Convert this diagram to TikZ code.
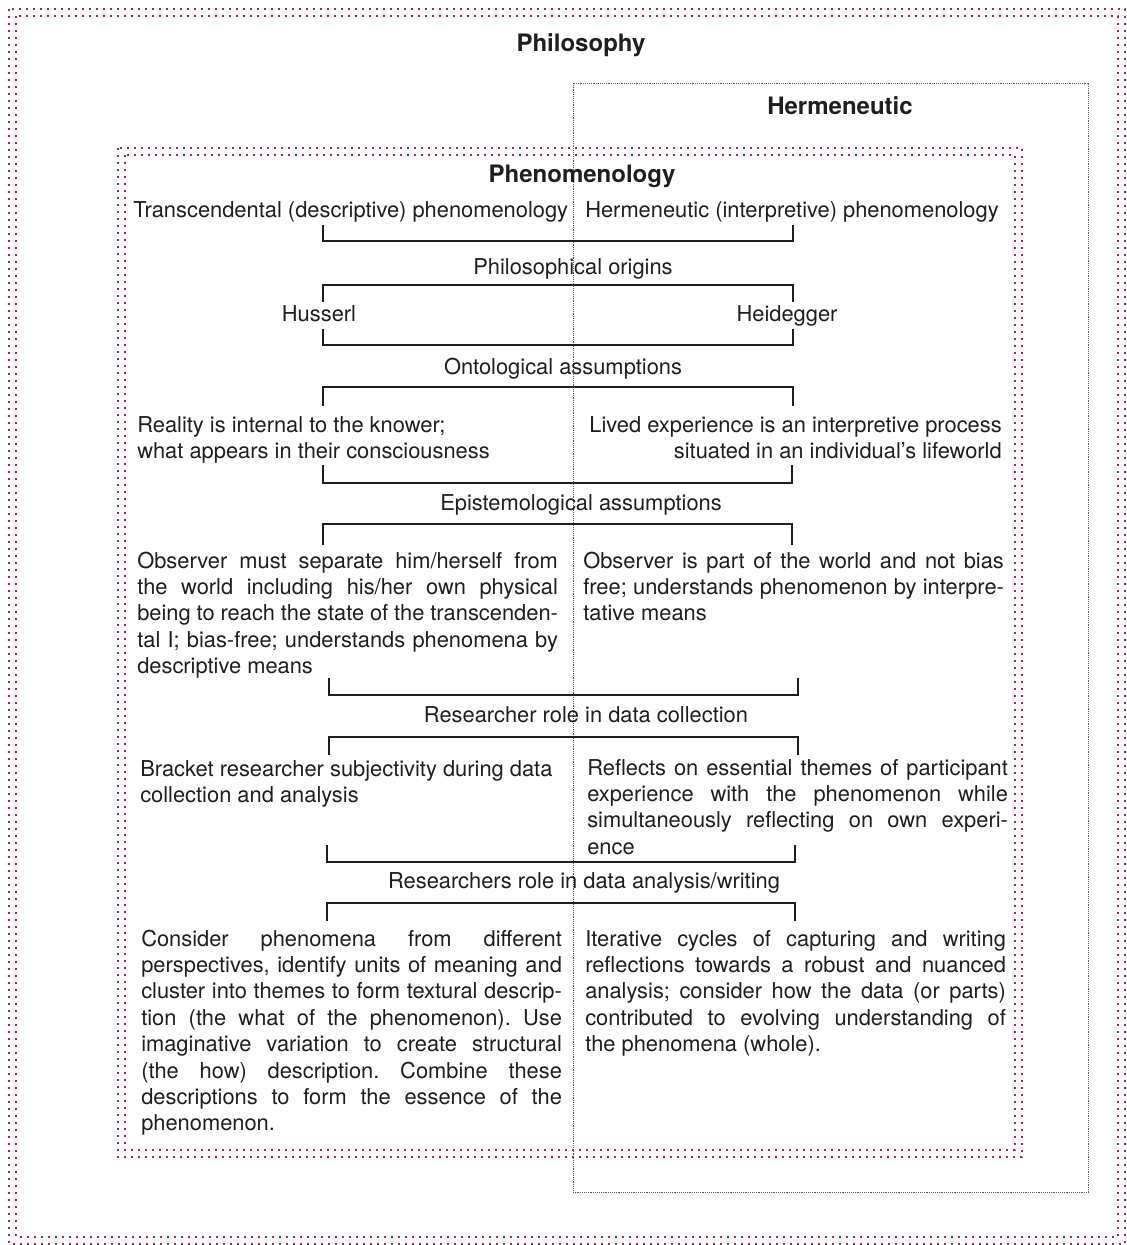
\documentclass[tikz,border=0pt]{standalone}
\usepackage{fontspec}
\setmainfont{TeX Gyre Heros}
\usetikzlibrary{calc}
\definecolor{dotred}{RGB}{160,40,72}
\definecolor{ink}{RGB}{30,30,30}
\newlength\colw
\setlength\colw{315.5pt}
\newcommand\fl[1]{\makebox[\colw][s]{#1}}
\frenchspacing

\begin{document}
\begin{tikzpicture}[x=0.75pt,y=-0.75pt,
    redframe/.style={draw=dotred, line width=1.8pt, dash pattern=on 1.8pt off 3.45pt},
    hermframe/.style={draw=gray!70!black, line width=0.7pt, dash pattern=on 0.7pt off 0.7pt},
    brk/.style={draw=ink, line width=1.4pt},
    head/.style={font=\fontsize{18}{22}\selectfont\bfseries, text=ink, inner sep=0pt, anchor=base},
    lbl/.style={font=\fontsize{16.4}{19.8}\selectfont, text=ink, inner sep=0pt, anchor=base},
    para/.style={lbl, align=left, anchor=base west}]
    \useasboundingbox (0,0) rectangle (1127,1245);
    % frames
    \draw[redframe] (9,9) rectangle (1125,1244);
    \draw[redframe] (16,16) rectangle (1118,1237);
    \draw[redframe] (118,148) rectangle (1022,1157);
    \draw[redframe] (125,155) rectangle (1015,1150);
    \draw[hermframe] (573,83) rectangle (1088,1192);
    % headings
    \node[head] (philo) at (581,52) {Philosophy};
    \node[head] (herm) at (840,115) {Hermeneutic};
    \node[head] (phen) at (582,183) {Phenomenology};
    % two traditions (base = last line of each block)
    \node[lbl, anchor=base west] (trans) at (133,217) {Transcendental (descriptive) phenomenology};
    \node[lbl, anchor=base west] (interp) at (585,217) {Hermeneutic (interpretive) phenomenology};
    \node[lbl] (origins) at (573,274) {Philosophical origins};
    \node[lbl] (husserl) at (319,321) {Husserl};
    \node[lbl] (heidegger) at (787,321) {Heidegger};
    \node[lbl] (onto) at (563,374) {Ontological assumptions};
    \node[para] (ontoL) at (137,458.4) {Reality is internal to the knower;\\what appears in their consciousness};
    \node[lbl, align=right, anchor=base east] (ontoR) at (1002,458.4) {Lived experience is an interpretive process\\situated in an individual's lifeworld};
    \node[lbl] (episto) at (581,510) {Epistemological assumptions};
    \node[para] (epistoL) at (137,673.6) {\fl{Observer must separate him/herself from}\\
        \fl{the world including his/her own physical}\\
        \fl{being to reach the state of the transcenden-}\\
        \fl{tal I; bias-free; understands phenomena by}\\
        descriptive means};
    \node[para] (epistoR) at (583,620.8) {\fl{Observer is part of the world and not bias}\\
        \fl{free; understands phenomenon by interpre-}\\
        tative means};
    \node[lbl] (collect) at (586,722) {Researcher role in data collection};
    \node[para] (collectL) at (140,802.4) {Bracket researcher subjectivity during data\\collection and analysis};
    \node[para] (collectR) at (587,854.2) {\fl{Reflects on essential themes of participant}\\
        \fl{experience with the phenomenon while}\\
        \fl{simultaneously reflecting on own experi-}\\
        ence};
    \node[lbl] (analysis) at (584,888) {Researchers role in data analysis/writing};
    \node[para] (analysisL) at (141,1130.8) {\fl{Consider phenomena from different}\\
        \fl{perspectives, identify units of meaning and}\\
        \fl{cluster into themes to form textural descrip-}\\
        \fl{tion (the what of the phenomenon). Use}\\
        \fl{imaginative variation to create structural}\\
        \fl{(the how) description. Combine these}\\
        \fl{descriptions to form the essence of the}\\
        phenomenon.};
    \node[para] (analysisR) at (585,1051.6) {\fl{Iterative cycles of capturing and writing}\\
        \fl{reflections towards a robust and nuanced}\\
        \fl{analysis; consider how the data (or parts)}\\
        \fl{contributed to evolving understanding of}\\
        the phenomena (whole).};
    % brackets: tick end / bar
    \foreach \xa/\xb/\ya/\yb in {323/793/225/241, 323/793/302/285, 323/793/329/345,
        323/793/406/387, 323/792/465/483, 323/792/545/524, 329/798/678/695,
        329/798/755/737, 327/795/845/862, 327/795/921/903}
        \draw[brk] (\xa,\ya) |- (\xb,\yb) -- (\xb,\ya);
\end{tikzpicture}
\end{document}
